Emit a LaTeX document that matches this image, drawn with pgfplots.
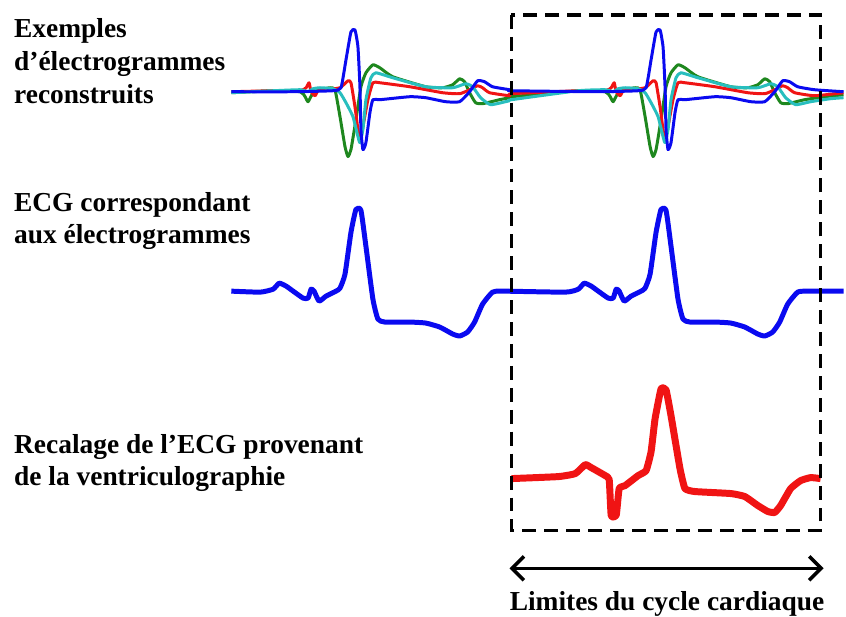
\documentclass[border=0pt]{standalone}
\usepackage{fontspec}
\setmainfont{Liberation Serif}
\usepackage{pgfplots}
\pgfplotsset{compat=1.18}
\usetikzlibrary{arrows.meta}

\definecolor{egblue}{RGB}{10,10,240}
\definecolor{egred}{RGB}{240,20,20}
\definecolor{eggreen}{RGB}{30,135,30}
\definecolor{egcyan}{RGB}{40,190,190}

\newcommand{\lbl}{\bfseries\fontsize{27.5}{33}\selectfont}

\begin{document}
\begin{tikzpicture}
\begin{axis}[width=846pt, height=618pt, scale only axis,
             xmin=0, xmax=846, ymin=0, ymax=618, y dir=reverse,
             hide axis, clip=false]
  \path (axis cs:0,0) rectangle (axis cs:846,618);

  % electrogrammes reconstruits (two cycles)
  \addplot[eggreen, line width=3pt, line join=round, smooth, tension=0.3] coordinates {
    (232,93) (274,91) (301,92) (306,97) (309,102) (314,93) (321,90) (331,88) (336,90)
    (341,117) (346,147) (349,157) (352,150) (357,120) (362,87) (367,73) (374,65) (381,68)
    (394,77) (427,87) (444,88) (454,85) (461,79) (466,82) (471,93) (477,103) (484,104)
    (501,100) (511,98)
    (513,97) (580,91) (607,92) (612,97) (615,102) (620,93) (627,90) (637,88) (642,90)
    (647,117) (652,147) (655,157) (658,150) (663,120) (668,87) (673,73) (680,65) (687,68)
    (700,77) (733,87) (750,88) (760,85) (767,79) (772,82) (777,93) (783,103) (790,104)
    (807,100) (827,97) (846,95)};
  \addplot[egred, line width=3pt, line join=round, smooth, tension=0.3] coordinates {
    (232,92) (274,91) (301,91) (307,88) (310,83) (312,92) (316,96) (319,91) (327,90)
    (341,88) (349,81) (352,83) (356,107) (359,130) (361,140) (364,127) (369,100) (374,83)
    (381,83) (411,87) (444,93) (461,94) (471,90) (479,86) (484,88) (491,93) (511,96)
    (513,94) (580,91) (607,91) (613,88) (616,83) (618,92) (622,96) (625,91) (633,90)
    (647,88) (655,81) (658,83) (662,107) (665,130) (667,140) (670,127) (675,100) (680,83)
    (687,83) (717,87) (750,93) (767,94) (777,90) (785,86) (790,88) (797,93) (817,96) (846,93)};
  \addplot[egcyan, line width=3pt, line join=round, smooth, tension=0.3] coordinates {
    (232,93) (274,91) (301,90) (309,92) (314,89) (321,88) (334,89) (341,93) (347,103)
    (354,117) (359,137) (361,143) (364,130) (367,100) (372,78) (377,73) (394,78) (427,87)
    (454,88) (467,84) (474,87) (482,98) (492,105) (507,102) (511,101)
    (513,100) (580,91) (607,90) (615,92) (620,89) (627,88) (640,89) (647,93) (653,103)
    (660,117) (665,137) (667,143) (670,130) (673,100) (678,78) (683,73) (700,78) (733,87)
    (760,88) (773,84) (780,87) (788,98) (798,105) (813,102) (833,99) (846,98)};
  \addplot[egblue, line width=3pt, line join=round, smooth, tension=0.3] coordinates {
    (232,92) (294,92) (334,91) (342,88) (347,60) (352,32) (356,30) (359,47) (361,87)
    (362,130) (364,150) (367,143) (371,113) (374,100) (381,100) (411,97) (427,98) (447,102)
    (461,102) (471,92) (479,81) (486,82) (494,87) (511,90)
    (513,91) (600,92) (640,91) (648,88) (653,60) (658,32) (662,30) (665,47) (667,87)
    (668,130) (670,150) (673,143) (677,113) (680,100) (687,100) (717,97) (733,98) (753,102)
    (767,102) (777,92) (785,81) (792,82) (800,87) (817,90) (846,92)};

  % ECG correspondant
  \addplot[egblue, line width=5pt, line join=round, smooth, tension=0.3] coordinates {
    (232,292) (261,293) (274,290) (280,284) (287,287) (294,292) (304,299) (309,299)
    (312,290) (315,292) (320,302) (327,297) (337,292) (341,289) (346,275) (352,233)
    (357,210) (362,211) (367,247) (374,300) (379,320) (386,323) (411,323) (427,324)
    (441,328) (454,335) (461,337) (469,333) (476,323) (484,305) (494,293) (504,292)
    (567,293) (580,290) (586,284) (593,287) (600,292) (610,299) (615,299) (618,290)
    (621,292) (626,302) (633,297) (643,292) (647,289) (652,275) (658,233) (663,210)
    (668,211) (673,247) (680,300) (685,320) (692,323) (717,323) (733,324) (747,328)
    (760,335) (767,337) (775,333) (782,323) (790,305) (800,293) (810,292) (846,292)};

  % ECG de la ventriculographie
  \addplot[egred, line width=7pt, line join=round, smooth, tension=0.25] coordinates {
    (513,480) (560,478) (577,475) (587,466) (593,469) (607,477) (611,481) (613,517)
    (618,517) (621,490) (627,487) (640,477) (648,472) (653,453) (657,420) (663,390)
    (668,391) (673,417) (682,470) (687,490) (697,493) (733,495) (747,498) (760,507)
    (770,513) (777,514) (783,507) (793,490) (803,482) (813,479) (823,480)};

  \draw[black, line width=3.5pt, dash pattern=on 14pt off 8pt]
    (axis cs:513,15) rectangle (axis cs:823,532);
  \draw[black, line width=3.5pt,
        {Straight Barb[length=12pt,width=24pt]}-{Straight Barb[length=12pt,width=24pt]}]
    (axis cs:511,570) -- (axis cs:826,570);

  \node[anchor=base west, inner sep=0, font=\lbl] at (axis cs:14,38) {Exemples};
  \node[anchor=base west, inner sep=0, font=\lbl] at (axis cs:14,71) {d’électrogrammes};
  \node[anchor=base west, inner sep=0, font=\lbl] at (axis cs:14,104) {reconstruits};
  \node[anchor=base west, inner sep=0, font=\lbl] at (axis cs:14,212) {ECG correspondant};
  \node[anchor=base west, inner sep=0, font=\lbl] at (axis cs:14,244) {aux électrogrammes};
  \node[anchor=base west, inner sep=0, font=\lbl] at (axis cs:14,455) {Recalage de l’ECG provenant};
  \node[anchor=base west, inner sep=0, font=\lbl] at (axis cs:14,487) {de la ventriculographie};
  \node[anchor=base, inner sep=0, font=\lbl] at (axis cs:669,612) {Limites du cycle cardiaque};
\end{axis}
\end{tikzpicture}
\end{document}
